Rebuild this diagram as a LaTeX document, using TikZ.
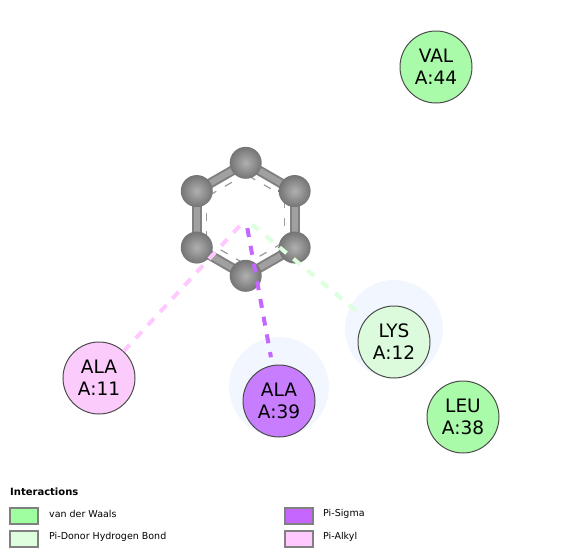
\documentclass[tikz,border=0pt]{standalone}
\usepackage{fontspec}
\setmainfont{DejaVu Sans}
\usetikzlibrary{calc}
\definecolor{WaalsGreen}{HTML}{A9FBA9}
\definecolor{DonorGreen}{HTML}{DCFBDC}
\definecolor{SigmaPurple}{HTML}{C87DFF}
\definecolor{AlkylPink}{HTML}{FBCCFB}
\definecolor{KeyWaals}{HTML}{9EFF9E}
\definecolor{KeyDonor}{HTML}{DEFFDE}
\definecolor{KeySigma}{HTML}{C566FF}
\definecolor{KeyAlkyl}{HTML}{FFC8FF}
\definecolor{HaloBlue}{HTML}{F2F6FE}
\definecolor{BondGray}{HTML}{808080}
\definecolor{BondLight}{HTML}{A0A0A0}
\definecolor{AtomLight}{HTML}{B0B0B0}
\definecolor{AtomDark}{HTML}{747474}
\definecolor{KeyEdge}{HTML}{808080}
\tikzset{
  residue/.style={circle,draw=black!70,line width=1pt,minimum size=72pt,inner sep=0pt,
    align=center,font=\fontsize{18.5}{22}\selectfont},
  halo/.style={circle,fill=HaloBlue,inner sep=0pt},
  atom/.style={circle,minimum size=32pt,inner sep=0pt,inner color=AtomLight,outer color=AtomDark},
  keybox/.style={draw=KeyEdge,line width=2pt,minimum width=28pt,minimum height=15.5pt,inner sep=0pt},
  keytext/.style={anchor=west,inner sep=0pt,font=\fontsize{9.5}{11}\selectfont},
  contact/.style={line width=4pt,dash pattern=on 9pt off 9pt}
}
\begin{document}
\begin{tikzpicture}[x=1pt,y=-1pt]
\useasboundingbox (0,0) rectangle (563,557);
% halos behind the residues
\node[halo,minimum size=98pt] (halolys) at (394,329) {};
\node[halo,minimum size=100pt] (haloala) at (279,387) {};
% residues
\node[residue,fill=WaalsGreen] (val44) at (436,67) {VAL\\A:44};
\node[residue,fill=DonorGreen] (lys12) at (394,342) {LYS\\A:12};
\node[residue,fill=SigmaPurple] (ala39) at (279,401) {ALA\\A:39};
\node[residue,fill=WaalsGreen] (leu38) at (463,417) {LEU\\A:38};
\node[residue,fill=AlkylPink] (ala11) at (99,378) {ALA\\A:11};
% ring
\coordinate (ringc) at (245.7,219.3);
\foreach \n/\a in {1/-90,2/-30,3/30,4/90,5/150,6/210} {
  \coordinate (r\n) at ($(ringc)+(\a:56.5)$);
  \coordinate (q\n) at ($(ringc)+(\a:45)$);
}
\foreach \n/\m in {1/2,2/3,3/4,4/5,5/6,6/1} {
  \draw[BondGray!80,line width=1.2pt,dash pattern=on 8pt off 10pt,dash phase=-3pt] (q\n) -- (q\m);
  \draw[BondGray,line width=10pt] (r\n) -- (r\m);
  \draw[BondLight,line width=6pt] (r\n) -- (r\m);
}
\foreach \n in {1,...,6} \node[atom] (atom\n) at (r\n) {};
% interactions
\draw[contact,KeyAlkyl,shorten <=9pt] (ringc) -- (ala11);
\draw[contact,KeySigma,shorten <=9pt,shorten >=8pt] (ringc) -- (ala39);
\draw[contact,KeyDonor,shorten <=8pt,shorten >=10pt] (ringc) -- (lys12);
% legend
\node[anchor=west,inner sep=0pt,font=\fontsize{10}{12}\selectfont\bfseries] (keyhead) at (10,492) {Interactions};
\node[keybox,fill=KeyWaals] (key1) at (24,516) {};
\node[keybox,fill=KeyDonor] (key2) at (24,539) {};
\node[keybox,fill=KeySigma] (key3) at (299,516) {};
\node[keybox,fill=KeyAlkyl] (key4) at (299,539) {};
\node[keytext] (keytext1) at (49,514) {van der Waals};
\node[keytext] (keytext2) at (49,537) {Pi-Donor Hydrogen Bond};
\node[keytext] (keytext3) at (323,514) {Pi-Sigma};
\node[keytext] (keytext4) at (323,537) {Pi-Alkyl};
\end{tikzpicture}
\end{document}
